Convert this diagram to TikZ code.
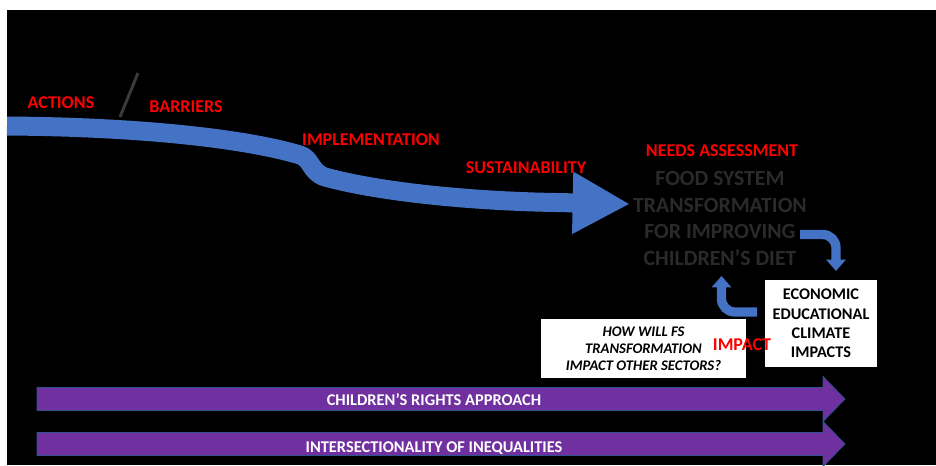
\documentclass[tikz,border=0pt]{standalone}
\usepackage{fontspec}
\setmainfont{Carlito}
\usetikzlibrary{arrows.meta}
\definecolor{colorflow}{HTML}{4472C4}
\definecolor{colorband}{HTML}{7030A0}
\definecolor{colorbandline}{HTML}{2F528F}
\definecolor{colorlabel}{HTML}{FF0000}
\definecolor{colorsystem}{HTML}{2A2A2A}
\definecolor{colorslash}{HTML}{3A3A3A}
\tikzset{
    stage label/.style={text=colorlabel, inner sep=0pt, anchor=base,
        font=\bfseries\fontsize{13.5}{16}\selectfont},
    system text/.style={text=colorsystem, inner sep=0pt, align=center,
        font=\bfseries\fontsize{16.3}{20}\selectfont},
    impact box/.style={fill=white, inner sep=0pt, align=center,
        minimum width=84pt, minimum height=65.25pt,
        font=\bfseries\fontsize{12.2}{14.5}\selectfont},
    sector box/.style={fill=white, inner sep=0pt, align=center,
        minimum width=153.75pt, minimum height=44.25pt,
        font=\bfseries\itshape\fontsize{11}{12.75}\selectfont},
    band text/.style={text=white, inner sep=0pt, anchor=base,
        font=\bfseries\fontsize{12.3}{14}\selectfont},
    bend arrow/.style={draw=colorflow, line width=7pt, rounded corners=10pt,
        -{Triangle[width=14.25pt, length=8.5pt]}}
}
\tikzset{band arrow/.pic={
        \path [draw, pic actions] (0,-11.5) --
        ++(786,0) --
        ++(0,-11) --
        (808,0) --
        (786,22.5) --
        ++(0,-11) --
        (0,11.5) -- cycle;
    }
}

\begin{document}
\begin{tikzpicture}[x=0.75pt, y=-0.75pt]
    \useasboundingbox (0,0) rectangle (936,465);
    \fill [white] (0,0) rectangle (936,465);
    \clip (0,0) rectangle (936,465);
    \fill [black] (7,10) rectangle (936,465);

    \foreach \y/\b/\t [count=\i] in {399/405/CHILDREN’S RIGHTS APPROACH,
        444/452/INTERSECTIONALITY OF INEQUALITIES} {
        \path (37,\y) pic [fill=colorband, draw=colorbandline, line width=0.6pt] {band arrow};
        \node [band text] (band\i) at (434,\b) {\t};
    }

    \coordinate (flowin) at (7,126);
    \coordinate (flowout) at (630,204);
    \draw [colorflow, line width=14.25pt, -{Triangle[width=43.5pt, length=43pt]}]
        (flowin) .. controls (150,127) and (250,140) .. (300,155)
        .. controls (312,159) and (310,172) .. (325,177)
        .. controls (380,192) and (470,201) .. (555,202.5) -- (flowout);

    \coordinate (slashtop) at (138,73);
    \coordinate (slashbottom) at (120,117);
    \draw [colorslash, line width=2.25pt] (slashtop) -- (slashbottom);

    \foreach \x/\y/\t/\n in {61/108/ACTIONS/actions, 186/112/BARRIERS/barriers,
        371/145/IMPLEMENTATION/implementation, 526/173/SUSTAINABILITY/sustainability,
        722/156/NEEDS ASSESSMENT/needs} {
        \node [stage label] (\n) at (\x,\y) {\t};
    }

    \node [system text] (fst) at (720,218.5)
        {FOOD SYSTEM\\TRANSFORMATION\\FOR IMPROVING\\CHILDREN’S DIET};

    \node [impact box] (impacts) at (821,323.5) {ECONOMIC\\EDUCATIONAL\\CLIMATE\\IMPACTS};
    \node [sector box] (sectors) at (643.5,348.5) {HOW WILL FS\\TRANSFORMATION\\IMPACT OTHER SECTORS?};

    \coordinate (fstout) at (800,234.5);
    \coordinate (impactsin) at (836,271);
    \coordinate (impactsout) at (757,312);
    \coordinate (fstin) at (721.5,276);
    \draw [bend arrow] (fstout) -- (fstout -| impactsin) -- (impactsin);
    \draw [bend arrow] (impactsout) -- (impactsout -| fstin) -- (fstin);

    \node [stage label] (impact) at (742,350) {IMPACT};
\end{tikzpicture}
\end{document}
